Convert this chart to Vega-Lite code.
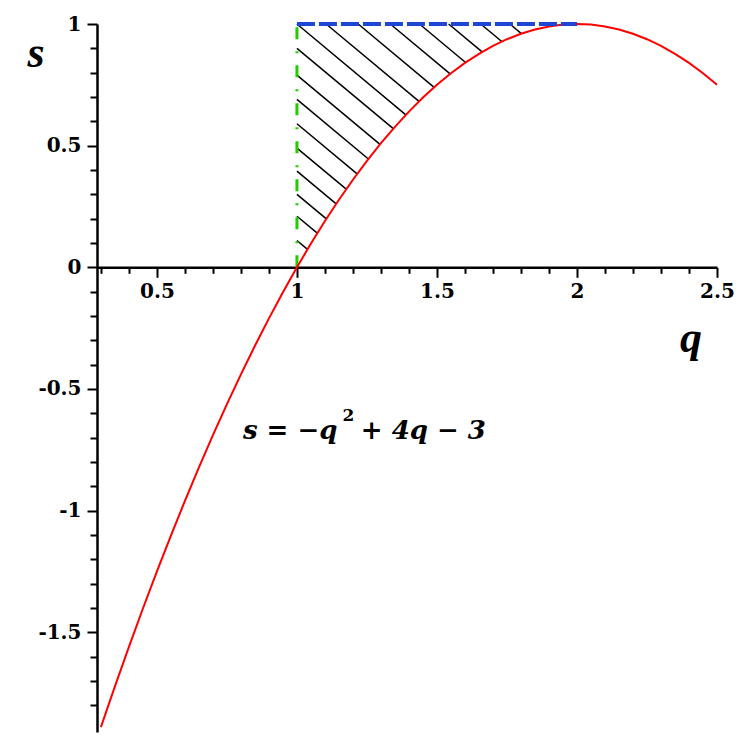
{
  "$schema": "https://vega.github.io/schema/vega-lite/v6.json",
  "width": 620,
  "height": 708,
  "autosize": "none",
  "padding": {"left": 97, "top": 24, "right": 30, "bottom": 17},
  "background": "white",
  "config": {"view": {"stroke": null}},
  "datasets": {
    "curve": [
      {"q": 0.30, "s": -1.89}, {"q": 0.35, "s": -1.7225}, {"q": 0.40, "s": -1.56}, {"q": 0.45, "s": -1.4025},
      {"q": 0.50, "s": -1.25}, {"q": 0.55, "s": -1.1025}, {"q": 0.60, "s": -0.96}, {"q": 0.65, "s": -0.8225},
      {"q": 0.70, "s": -0.69}, {"q": 0.75, "s": -0.5625}, {"q": 0.80, "s": -0.44}, {"q": 0.85, "s": -0.3225},
      {"q": 0.90, "s": -0.21}, {"q": 0.95, "s": -0.1025}, {"q": 1.00, "s": 0}, {"q": 1.05, "s": 0.0975},
      {"q": 1.10, "s": 0.19}, {"q": 1.15, "s": 0.2775}, {"q": 1.20, "s": 0.36}, {"q": 1.25, "s": 0.4375},
      {"q": 1.30, "s": 0.51}, {"q": 1.35, "s": 0.5775}, {"q": 1.40, "s": 0.64}, {"q": 1.45, "s": 0.6975},
      {"q": 1.50, "s": 0.75}, {"q": 1.55, "s": 0.7975}, {"q": 1.60, "s": 0.84}, {"q": 1.65, "s": 0.8775},
      {"q": 1.70, "s": 0.91}, {"q": 1.75, "s": 0.9375}, {"q": 1.80, "s": 0.96}, {"q": 1.85, "s": 0.9775},
      {"q": 1.90, "s": 0.99}, {"q": 1.95, "s": 0.9975}, {"q": 2.00, "s": 1}, {"q": 2.05, "s": 0.9975},
      {"q": 2.10, "s": 0.99}, {"q": 2.15, "s": 0.9775}, {"q": 2.20, "s": 0.96}, {"q": 2.25, "s": 0.9375},
      {"q": 2.30, "s": 0.91}, {"q": 2.35, "s": 0.8775}, {"q": 2.40, "s": 0.84}, {"q": 2.45, "s": 0.7975},
      {"q": 2.50, "s": 0.75}
    ],
    "hatch": [
      {"q": 1, "s": 0.11, "q2": 1.0377, "s2": 0.0739},
      {"q": 1, "s": 0.21, "q2": 1.0727, "s2": 0.1402},
      {"q": 1, "s": 0.30, "q2": 1.1051, "s2": 0.1991},
      {"q": 1, "s": 0.395, "q2": 1.1401, "s2": 0.2605},
      {"q": 1, "s": 0.49, "q2": 1.1760, "s2": 0.3210},
      {"q": 1, "s": 0.59, "q2": 1.2149, "s2": 0.3837},
      {"q": 1, "s": 0.69, "q2": 1.2551, "s2": 0.4451},
      {"q": 1, "s": 0.79, "q2": 1.2966, "s2": 0.5053},
      {"q": 1, "s": 0.90, "q2": 1.3440, "s2": 0.5697},
      {"q": 1, "s": 1.00, "q2": 1.3889, "s2": 0.6266},
      {"q": 1.1042, "s": 1, "q2": 1.4358, "s2": 0.6817},
      {"q": 1.2188, "s": 1, "q2": 1.4899, "s2": 0.7397},
      {"q": 1.3333, "s": 1, "q2": 1.5470, "s2": 0.7948},
      {"q": 1.4375, "s": 1, "q2": 1.6023, "s2": 0.8418},
      {"q": 1.5417, "s": 1, "q2": 1.6612, "s2": 0.8852},
      {"q": 1.6563, "s": 1, "q2": 1.7314, "s2": 0.9279},
      {"q": 1.7604, "s": 1, "q2": 1.8015, "s2": 0.9606}
    ],
    "formula": [
      {"q": 0.807, "s": -0.705, "label": "s = −q", "part": "main"},
      {"q": 1.163, "s": -0.632, "label": "2", "part": "sup"},
      {"q": 1.228, "s": -0.705, "label": "+ 4q − 3", "part": "main"}
    ]
  },
  "resolve": {"axis": {"x": "independent", "y": "independent"}},
  "layer": [
    {
      "data": {"name": "hatch"},
      "mark": {"type": "rule", "color": "black", "strokeWidth": 1.5},
      "encoding": {
        "x": {
          "field": "q", "type": "quantitative",
          "scale": {"domain": [0.286, 2.5], "nice": false, "zero": false},
          "axis": {
            "orient": "bottom", "values": [0.5, 1, 1.5, 2, 2.5], "offset": -464.7, "title": null, "grid": false,
            "tickSize": 10, "tickWidth": 2, "tickColor": "black", "domainColor": "black", "domainWidth": 2.5,
            "labelFont": "DejaVu Serif", "labelFontWeight": "bold", "labelFontSize": 20, "labelColor": "black",
            "labelPadding": 4, "labelFlush": false, "labelOverlap": false, "labelBound": false, "format": "~g"
          }
        },
        "x2": {"field": "q2"},
        "y": {
          "field": "s", "type": "quantitative",
          "scale": {"domain": [-1.91, 1], "nice": false, "zero": false},
          "axis": {
            "orient": "left", "values": [-1.5, -1, -0.5, 0, 0.5, 1], "title": null, "grid": false,
            "tickSize": 10, "tickWidth": 2, "tickColor": "black", "domainColor": "black", "domainWidth": 2.5,
            "labelFont": "DejaVu Serif", "labelFontWeight": "bold", "labelFontSize": 20, "labelColor": "black",
            "labelPadding": 6, "labelFlush": false, "labelOverlap": false, "labelBound": false,
            "labelExpr": "replace(format(datum.value, '~g'), '−', '-')"
          }
        },
        "y2": {"field": "s2"}
      }
    },
    {
      "data": {"values": [{"q": 1, "s": 0, "s2": 1}]},
      "mark": {"type": "rule", "color": "#22cc00", "strokeWidth": 3, "strokeDash": [12, 12, 2, 12]},
      "encoding": {
        "x": {"field": "q", "type": "quantitative", "scale": {"domain": [0.286, 2.5], "nice": false, "zero": false}, "axis": null},
        "y": {"field": "s", "type": "quantitative", "scale": {"domain": [-1.91, 1], "nice": false, "zero": false}, "axis": null},
        "y2": {"field": "s2"}
      }
    },
    {
      "data": {"name": "curve"},
      "mark": {"type": "line", "color": "#ff0000", "strokeWidth": 2},
      "encoding": {
        "x": {
          "field": "q", "type": "quantitative",
          "scale": {"domain": [0.286, 2.5], "nice": false, "zero": false},
          "axis": {
            "orient": "bottom",
            "values": [0.3, 0.4, 0.6, 0.7, 0.8, 0.9, 1.1, 1.2, 1.3, 1.4, 1.6, 1.7, 1.8, 1.9, 2.1, 2.2, 2.3, 2.4],
            "offset": -464.7, "title": null, "grid": false, "domain": false, "labels": false,
            "tickSize": 6, "tickWidth": 2, "tickColor": "black"
          }
        },
        "y": {
          "field": "s", "type": "quantitative",
          "scale": {"domain": [-1.91, 1], "nice": false, "zero": false},
          "axis": {
            "orient": "left",
            "values": [-1.8, -1.7, -1.6, -1.4, -1.3, -1.2, -1.1, -0.9, -0.8, -0.7, -0.6, -0.4, -0.3, -0.2, -0.1, 0.1, 0.2, 0.3, 0.4, 0.6, 0.7, 0.8, 0.9],
            "title": null, "grid": false, "domain": false, "labels": false,
            "tickSize": 7, "tickWidth": 2, "tickColor": "black"
          }
        }
      }
    },
    {
      "data": {"values": [{"q": 1, "q2": 2, "s": 1}]},
      "mark": {"type": "rule", "color": "#1f45d4", "strokeWidth": 4, "strokeDash": [18, 4]},
      "encoding": {
        "x": {"field": "q", "type": "quantitative", "scale": {"domain": [0.286, 2.5], "nice": false, "zero": false}, "axis": null},
        "x2": {"field": "q2"},
        "y": {"field": "s", "type": "quantitative", "scale": {"domain": [-1.91, 1], "nice": false, "zero": false}, "axis": null}
      }
    },
    {
      "data": {"values": [{"q": 0.068, "s": 0.822, "label": "s"}, {"q": 2.407, "s": -0.349, "label": "q"}]},
      "mark": {"type": "text", "font": "Liberation Serif", "fontStyle": "italic", "fontWeight": "bold", "fontSize": 44, "align": "center", "baseline": "alphabetic", "color": "black"},
      "encoding": {
        "x": {"field": "q", "type": "quantitative", "scale": {"domain": [0.286, 2.5], "nice": false, "zero": false}, "axis": null},
        "y": {"field": "s", "type": "quantitative", "scale": {"domain": [-1.91, 1], "nice": false, "zero": false}, "axis": null},
        "text": {"field": "label"}
      }
    },
    {
      "data": {"name": "formula"},
      "transform": [{"filter": "datum.part == 'main'"}],
      "mark": {"type": "text", "font": "DejaVu Serif", "fontStyle": "italic", "fontWeight": "bold", "fontSize": 26, "align": "left", "baseline": "alphabetic", "color": "black"},
      "encoding": {
        "x": {"field": "q", "type": "quantitative", "scale": {"domain": [0.286, 2.5], "nice": false, "zero": false}, "axis": null},
        "y": {"field": "s", "type": "quantitative", "scale": {"domain": [-1.91, 1], "nice": false, "zero": false}, "axis": null},
        "text": {"field": "label"}
      }
    },
    {
      "data": {"name": "formula"},
      "transform": [{"filter": "datum.part == 'sup'"}],
      "mark": {"type": "text", "font": "DejaVu Serif", "fontWeight": "bold", "fontSize": 17, "align": "left", "baseline": "alphabetic", "color": "black"},
      "encoding": {
        "x": {"field": "q", "type": "quantitative", "scale": {"domain": [0.286, 2.5], "nice": false, "zero": false}, "axis": null},
        "y": {"field": "s", "type": "quantitative", "scale": {"domain": [-1.91, 1], "nice": false, "zero": false}, "axis": null},
        "text": {"field": "label"}
      }
    }
  ]
}
